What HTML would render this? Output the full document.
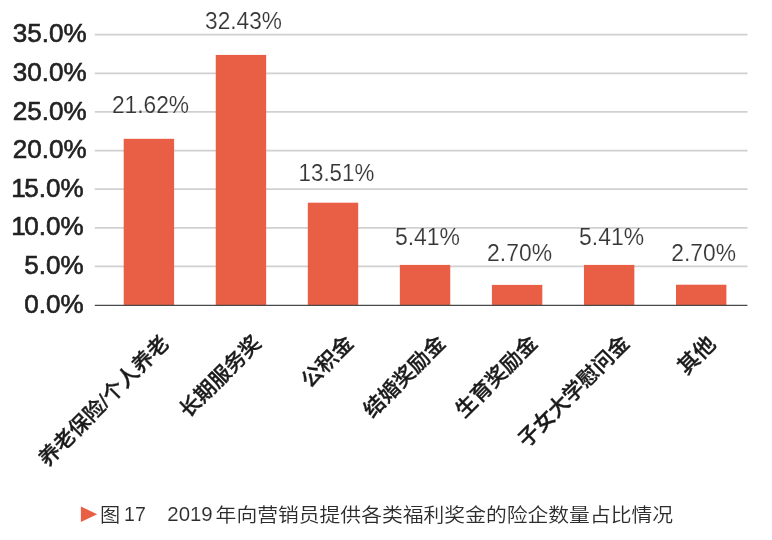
<!DOCTYPE html>
<html lang="zh-CN"><head><meta charset="utf-8"><title>图17</title>
<style>
html,body{margin:0;padding:0;background:#fff;}
body{width:772px;height:540px;overflow:hidden;}
svg{display:block;}
.ax{font-family:"Liberation Sans","Noto Sans CJK SC",sans-serif;font-size:25.3px;fill:#222;stroke:#222;stroke-width:0.6px;}
.dl{font-family:"Liberation Sans","Noto Sans CJK SC",sans-serif;font-size:23.2px;fill:#363636;stroke:#fff;stroke-width:0.16px;}
.cat{font-family:"Liberation Sans","Noto Sans CJK SC",sans-serif;font-weight:500;font-size:21px;fill:#1a1a1a;stroke:#1a1a1a;stroke-width:0.35px;}
.cap{font-family:"Liberation Sans","Noto Sans CJK SC",sans-serif;font-weight:350;font-size:19.1px;fill:#2c2c2c;}
.num{font-weight:400;font-size:19.5px;stroke:#fff;stroke-width:0.1px;}
</style></head><body>
<svg width="772" height="540" viewBox="0 0 772 540">
<rect width="772" height="540" fill="#fff"/>
<line x1="94.8" x2="747.5" y1="266.47" y2="266.47" stroke="#d0d0d0" stroke-width="1.7"/>
<line x1="94.8" x2="747.5" y1="227.84" y2="227.84" stroke="#d0d0d0" stroke-width="1.7"/>
<line x1="94.8" x2="747.5" y1="189.21" y2="189.21" stroke="#d0d0d0" stroke-width="1.7"/>
<line x1="94.8" x2="747.5" y1="150.59" y2="150.59" stroke="#d0d0d0" stroke-width="1.7"/>
<line x1="94.8" x2="747.5" y1="111.96" y2="111.96" stroke="#d0d0d0" stroke-width="1.7"/>
<line x1="94.8" x2="747.5" y1="73.33" y2="73.33" stroke="#d0d0d0" stroke-width="1.7"/>
<line x1="94.8" x2="747.5" y1="34.70" y2="34.70" stroke="#d0d0d0" stroke-width="1.7"/>
<rect x="123.70" y="138.80" width="50.4" height="166.30" fill="#e95f46"/>
<rect x="215.75" y="54.90" width="50.4" height="250.20" fill="#e95f46"/>
<rect x="307.80" y="202.70" width="50.4" height="102.40" fill="#e95f46"/>
<rect x="399.85" y="264.90" width="50.4" height="40.20" fill="#e95f46"/>
<rect x="491.90" y="284.90" width="50.4" height="20.20" fill="#e95f46"/>
<rect x="583.95" y="264.90" width="50.4" height="40.20" fill="#e95f46"/>
<rect x="676.00" y="284.70" width="50.4" height="20.40" fill="#e95f46"/>
<line x1="94.8" x2="747.4" y1="305.35" y2="305.35" stroke="#4a4a4a" stroke-width="1.25"/>
<text class="ax" transform="translate(83.7,312.70) scale(1.03,1)" text-anchor="end">0.0%</text>
<text class="ax" transform="translate(83.7,274.07) scale(1.03,1)" text-anchor="end">5.0%</text>
<text class="ax" transform="translate(83.7,235.44) scale(1.03,1)" text-anchor="end">1<tspan dx="-1.3">0.0%</tspan></text>
<text class="ax" transform="translate(83.7,196.81) scale(1.03,1)" text-anchor="end">1<tspan dx="-1.3">5.0%</tspan></text>
<text class="ax" transform="translate(86.6,158.19) scale(1.03,1)" text-anchor="end">20.0%</text>
<text class="ax" transform="translate(86.6,119.56) scale(1.03,1)" text-anchor="end">25.0%</text>
<text class="ax" transform="translate(86.6,80.93) scale(1.03,1)" text-anchor="end">30.0%</text>
<text class="ax" transform="translate(86.6,42.30) scale(1.03,1)" text-anchor="end">35.0%</text>
<text class="dl" x="111.90" y="113.00" textLength="77.20" lengthAdjust="spacingAndGlyphs">21.62%</text>
<text class="dl" x="205.10" y="28.50" textLength="76.80" lengthAdjust="spacingAndGlyphs">32.43%</text>
<text class="dl" x="298.60" y="181.30" textLength="75.70" lengthAdjust="spacingAndGlyphs">13.51%</text>
<text class="dl" x="394.90" y="244.80" textLength="65.10" lengthAdjust="spacingAndGlyphs">5.41%</text>
<text class="dl" x="487.10" y="260.80" textLength="64.90" lengthAdjust="spacingAndGlyphs">2.70%</text>
<text class="dl" x="579.10" y="244.80" textLength="64.90" lengthAdjust="spacingAndGlyphs">5.41%</text>
<text class="dl" x="671.30" y="260.50" textLength="64.70" lengthAdjust="spacingAndGlyphs">2.70%</text>
<text class="cat" style="font-size:21px" transform="translate(170.40,344.50) rotate(-45)" text-anchor="end">养老保险<tspan dx="0">/</tspan><tspan dx="0">个人养老</tspan></text>
<text class="cat" style="font-size:21px" transform="translate(262.45,344.50) rotate(-45)" text-anchor="end">长期服务奖</text>
<text class="cat" style="font-size:21px" transform="translate(354.50,344.50) rotate(-45)" text-anchor="end">公积金</text>
<text class="cat" style="font-size:21px" transform="translate(446.55,344.50) rotate(-45)" text-anchor="end">结婚奖励金</text>
<text class="cat" style="font-size:21px" transform="translate(538.60,344.50) rotate(-45)" text-anchor="end">生育奖励金</text>
<text class="cat" style="font-size:21px" transform="translate(630.65,344.50) rotate(-45)" text-anchor="end">子女大学慰问金</text>
<text class="cat" style="font-size:21.6px" transform="translate(717.10,345.30) rotate(-45)" text-anchor="end">其他</text>
<polygon points="80.9,506.5 97.2,514.2 80.9,521.9" fill="#e95f46"/>
<text class="cap" x="99.9" y="521.65" textLength="20.2" lengthAdjust="spacingAndGlyphs">图</text>
<text class="cap num" x="124.0" y="521.3" textLength="21.8" lengthAdjust="spacingAndGlyphs">17</text>
<text class="cap num" x="167.3" y="521.2" textLength="45.4" lengthAdjust="spacingAndGlyphs">2019</text>
<text class="cap" x="215.6" y="521.7" textLength="457.5" lengthAdjust="spacingAndGlyphs">年向营销员提供各类福利奖金的险企数量占比情况</text>
</svg></body></html>
